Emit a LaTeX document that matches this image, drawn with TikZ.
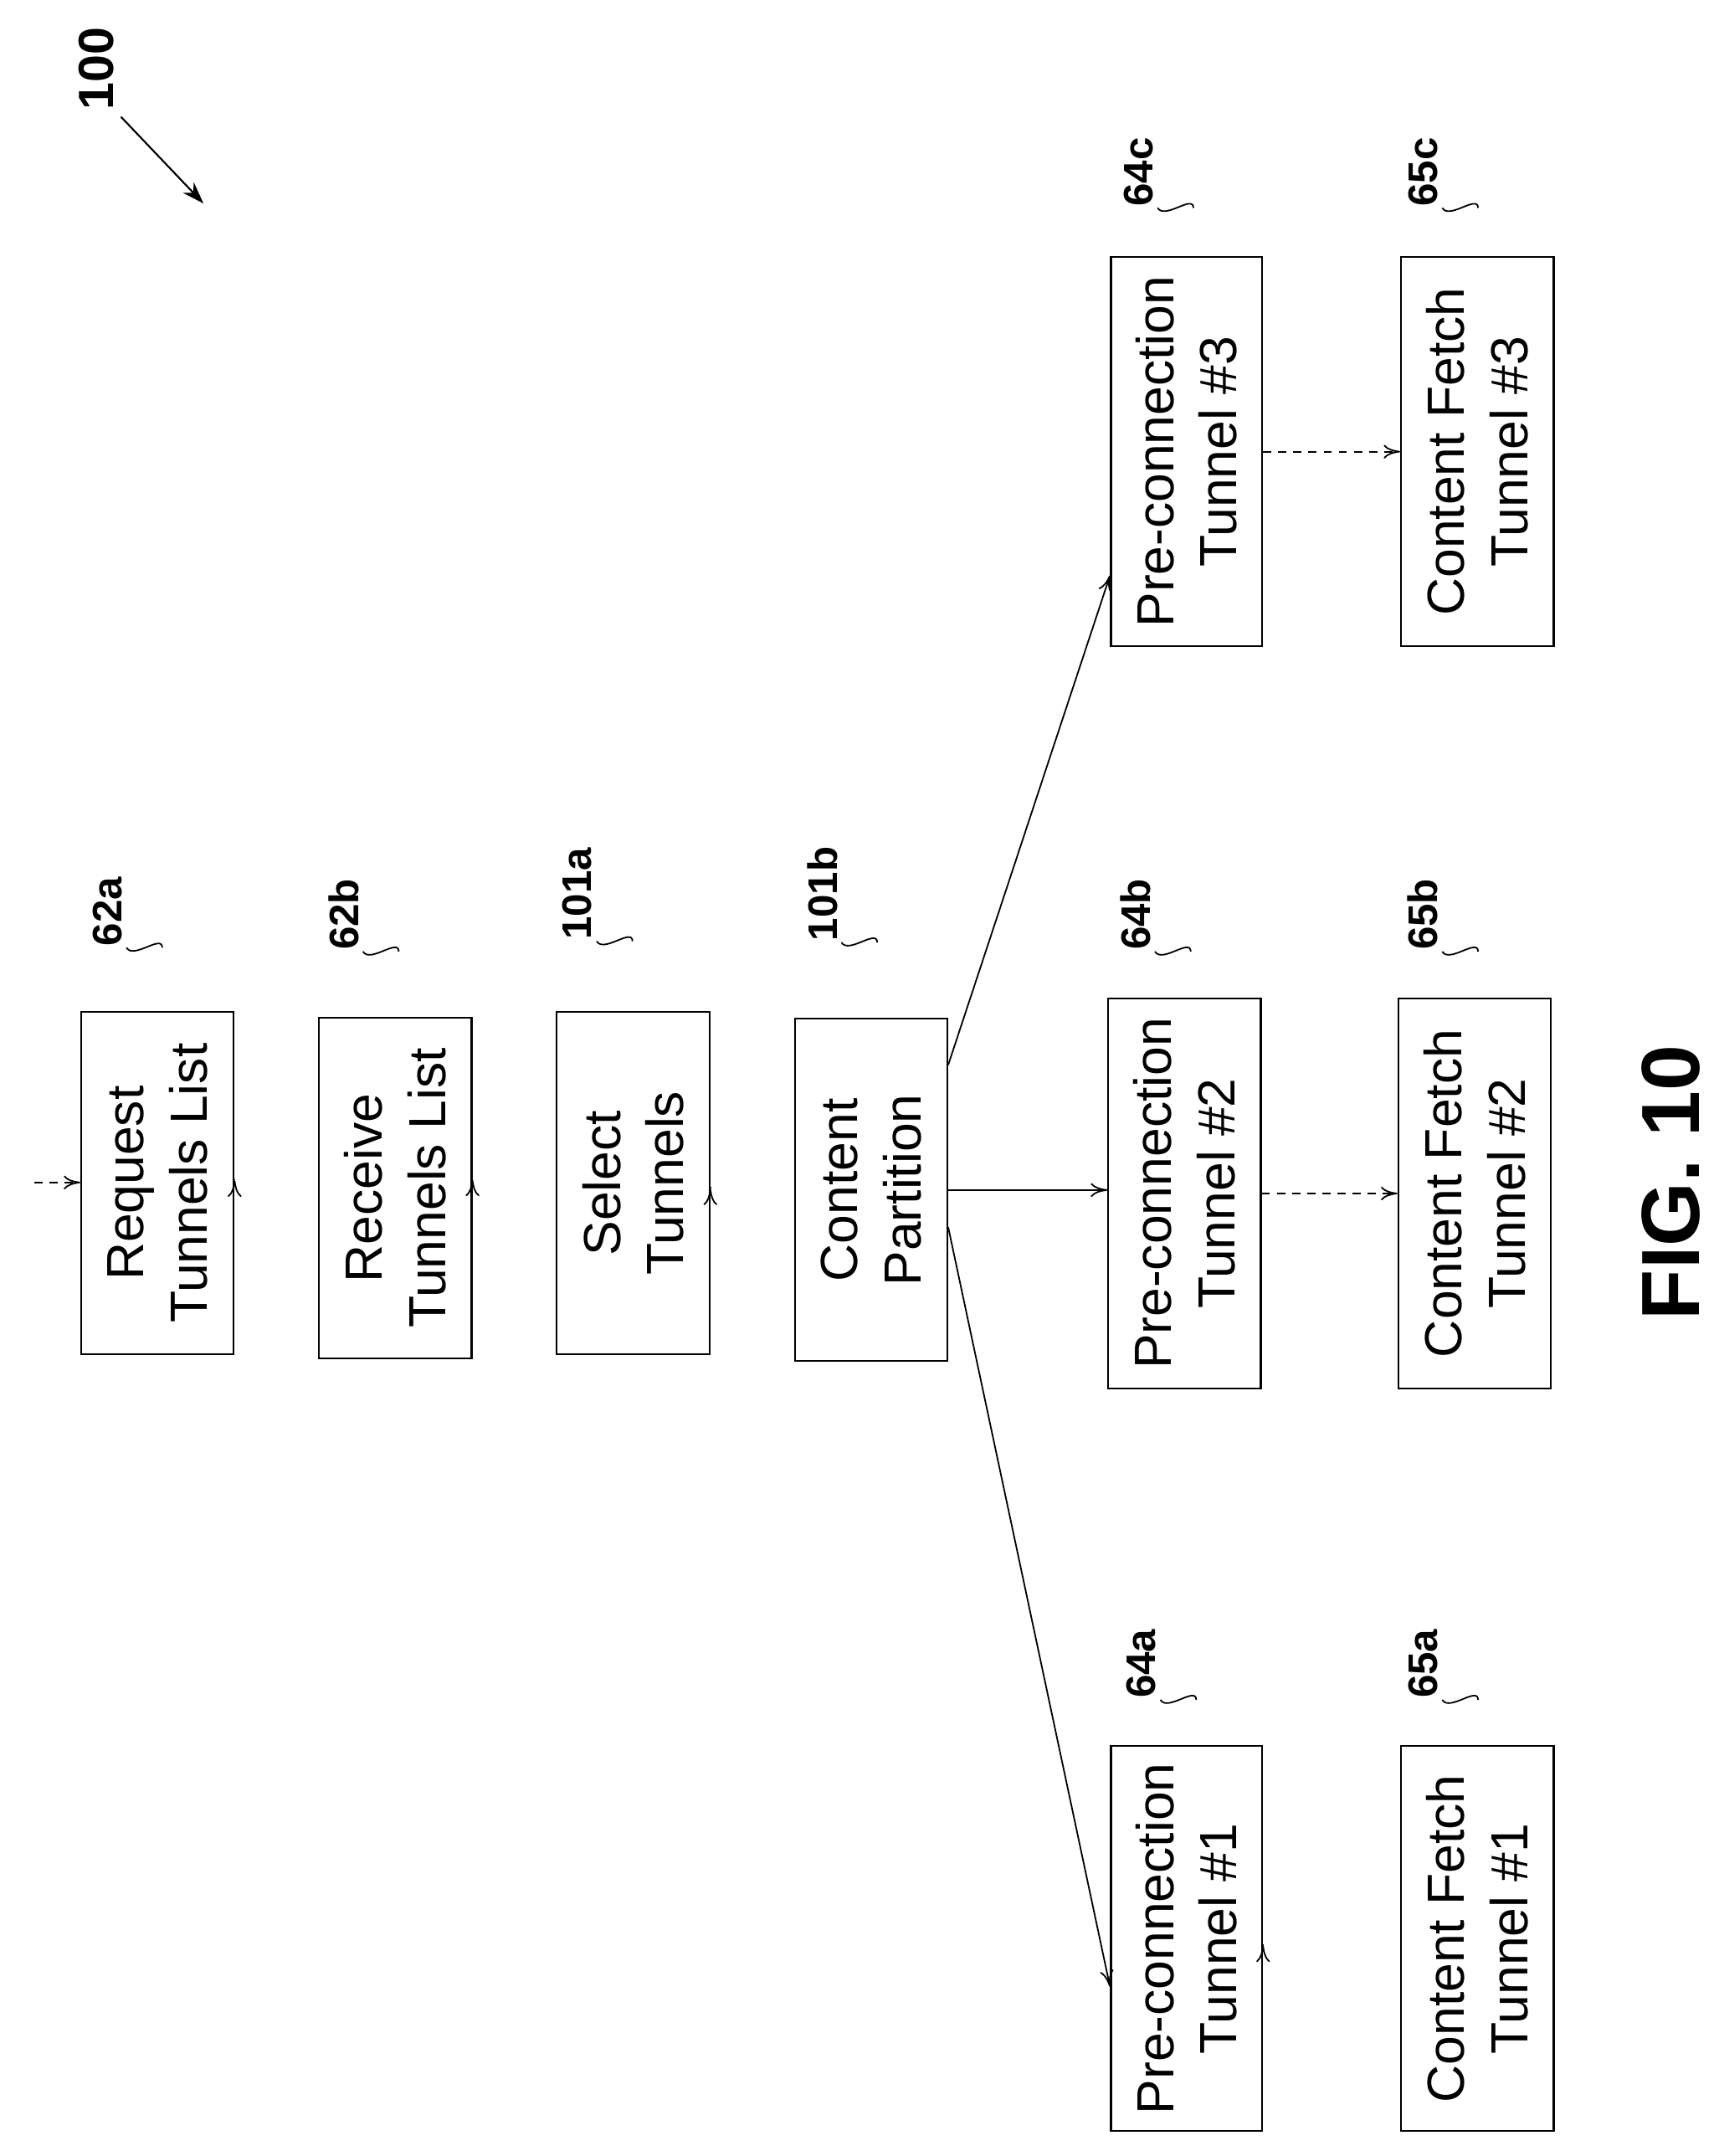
\documentclass[tikz,border=0pt]{standalone}
\usepackage{fontspec}
\setmainfont{Liberation Sans}
\usetikzlibrary{calc,arrows.meta}
\begin{document}
\begin{tikzpicture}[x=1pt,y=1pt,
  box/.style={draw,line width=1.3pt,rotate=90,inner sep=0pt,align=center,font=\fontsize{38}{46}\selectfont},
  lbl/.style={rotate=90,font=\fontsize{30}{36}\selectfont\bfseries,inner sep=1pt},
  arr/.style={-{To[length=12pt,width=10pt]},line width=1.1pt},
  darr/.style={arr,dashed,dash pattern=on 6pt off 5pt},
  lead/.style={line width=1.1pt}]
\useasboundingbox (0,0) rectangle (1250,1568);
\node[box,minimum width=249,minimum height=111] (r1) at (114.5,707.5) {Request\\Tunnels List};
\node[box,minimum width=248,minimum height=111] (r2) at (287.5,704) {Receive\\Tunnels List};
\node[box,minimum width=249,minimum height=111] (s) at (460.5,707.5) {Select\\Tunnels};
\node[box,minimum width=249,minimum height=111] (cp) at (633.5,702.5) {Content\\Partition};
\node[box,minimum width=280,minimum height=110] (p1) at (863,158) {Pre-connection\\Tunnel \#1};
\node[box,minimum width=284,minimum height=111] (p2) at (861.5,700) {Pre-connection\\Tunnel \#2};
\node[box,minimum width=283,minimum height=110] (p3) at (863,1239.5) {Pre-connection\\Tunnel \#3};
\node[box,minimum width=280,minimum height=111] (f1) at (1074.5,158) {Content Fetch\\Tunnel \#1};
\node[box,minimum width=284,minimum height=111] (f2) at (1072.5,700) {Content Fetch\\Tunnel \#2};
\node[box,minimum width=283,minimum height=111] (f3) at (1074.5,1239.5) {Content Fetch\\Tunnel \#3};
\coordinate (in) at (25,708);
\draw[darr] (in) -- (in -| r1.north);
\draw[arr] ($(r1.south)+(0,2)$) -- ($(r1.south)+(0,2)$ -| r2.north);
\draw[arr] ($(r2.south)+(0,6)$) -- ($(r2.south)+(0,6)$ -| s.north);
\draw[arr] ($(s.south)+(0,-4)$) -- ($(s.south)+(0,-4)$ -| cp.north);
\draw[arr] (cp.south) -- (cp.south -| p2.north);
\draw[arr] ($(cp.south)+(0,91)$) -- ($(p3.north)+(0,-90)$);
\draw[arr] ($(cp.south)+(0,-27)$) -- ($(p1.north)+(0,-35)$);
\draw[darr] ($(p1.south)+(0,-5)$) -- ($(p1.south)+(0,-5)$ -| f1.north);
\draw[darr] (p2.south) -- (p2.south -| f2.north);
\draw[darr] (p3.south) -- (p3.south -| f3.north);
\foreach \n/\b/\x/\y in {62a/r1/78/905,62b/r2/250/903,101a/s/420/918,101b/cp/598/918,64a/p1/830/358,64b/p2/826/903,64c/p3/828/1443,65a/f1/1035/358,65b/f2/1035/903,65c/f3/1035/1443}{
  \node[lbl] (L\n) at (\x,\y) {\n};
  \draw[lead] ($(L\n.west)+(14,0)$) to[out=-60,in=90] ($(L\n.west)+(40,0)$ |- \b.east);
}
\node[lbl,font=\fontsize{36}{40}\selectfont\bfseries] (L100) at (70,1518) {100};
\coordinate (a100) at (148,1420);
\draw[-{Stealth[length=16pt,width=11pt]},line width=1.3pt] (88,1483) -- (a100);
\node[rotate=90,font=\fontsize{60}{70}\selectfont\bfseries] (fig) at (1215,708) {FIG. 10};
\end{tikzpicture}
\end{document}
